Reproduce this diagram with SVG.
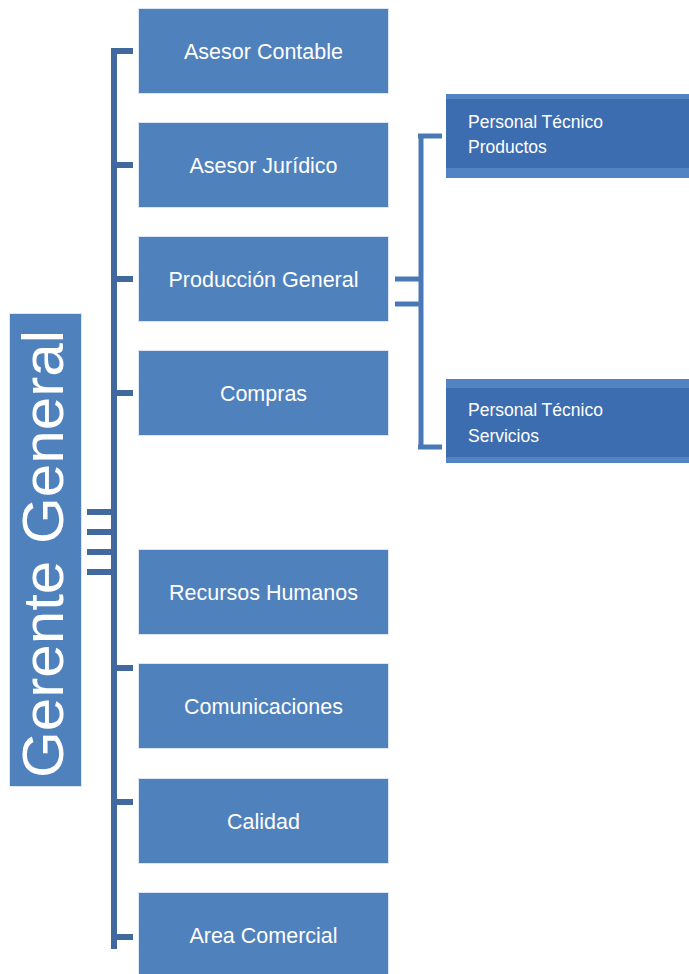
<svg xmlns="http://www.w3.org/2000/svg" width="689" height="974" viewBox="0 0 689 974">
<style>
.node{fill:#4F81BD;stroke:#DCE6F2;stroke-width:1}
.lbl{font-family:"Liberation Sans",Arial,sans-serif;font-size:21.5px;fill:#FFFFFF;text-anchor:middle}
.sub{fill:#3D6DB1}
.subl{fill:#5283C2}
.slbl{font-family:"Liberation Sans",Arial,sans-serif;font-size:17.5px;fill:#FFFFFF}
.trunk{stroke:#41699E;stroke-width:6;fill:none}
.rline{stroke:#4A78B6;stroke-width:5;fill:none}
</style>
<rect width="689" height="974" fill="#FFFFFF"/>
<g id="connectors">
<path class="trunk" d="M114,48 V949"/>
<path class="trunk" d="M111,51 H133 M111,165 H133 M111,279 H133 M111,393 H133 M111,668 H133 M111,802 H133 M111,937 H133"/>
<path class="trunk" d="M87,512 H111 M87,532 H111 M87,552 H111 M87,572 H111"/>
<path class="rline" d="M395,279 H421 M395,304 H421 M421,136 V447 M418,136 H442 M418,447 H442"/>
</g>
<g id="gerente">
<rect x="9.5" y="313.5" width="72" height="473" class="node"/>
<text transform="translate(63,554) rotate(-90)" font-family="Liberation Sans,Arial,sans-serif" font-size="58" fill="#FFFFFF" text-anchor="middle" textLength="448" lengthAdjust="spacingAndGlyphs">Gerente General</text>
</g>
<g id="asesor-contable"><rect x="138.5" y="8.5" width="250" height="85" class="node"/><text x="263.5" y="59" class="lbl">Asesor Contable</text></g>
<g id="asesor-juridico"><rect x="138.5" y="122.5" width="250" height="85" class="node"/><text x="263.5" y="173" class="lbl">Asesor Jurídico</text></g>
<g id="produccion-general"><rect x="138.5" y="236.5" width="250" height="85" class="node"/><text x="263.5" y="287" class="lbl">Producción General</text></g>
<g id="compras"><rect x="138.5" y="350.5" width="250" height="85" class="node"/><text x="263.5" y="401" class="lbl">Compras</text></g>
<g id="recursos-humanos"><rect x="138.5" y="549.5" width="250" height="85" class="node"/><text x="263.5" y="600" class="lbl">Recursos Humanos</text></g>
<g id="comunicaciones"><rect x="138.5" y="663.5" width="250" height="85" class="node"/><text x="263.5" y="714" class="lbl">Comunicaciones</text></g>
<g id="calidad"><rect x="138.5" y="778.5" width="250" height="85" class="node"/><text x="263.5" y="829" class="lbl">Calidad</text></g>
<g id="area-comercial"><rect x="138.5" y="892.5" width="250" height="90" class="node"/><text x="263.5" y="943" class="lbl">Area Comercial</text></g>
<g id="personal-tecnico-productos">
<rect x="446" y="94" width="243" height="84" class="subl"/>
<rect x="446" y="99" width="243" height="69" class="sub"/>
<text x="468" y="128" class="slbl">Personal Técnico</text>
<text x="468" y="153" class="slbl">Productos</text>
</g>
<g id="personal-tecnico-servicios">
<rect x="446" y="379" width="243" height="84" class="subl"/>
<rect x="446" y="388" width="243" height="69" class="sub"/>
<text x="468" y="416" class="slbl">Personal Técnico</text>
<text x="468" y="442" class="slbl">Servicios</text>
</g>
</svg>
